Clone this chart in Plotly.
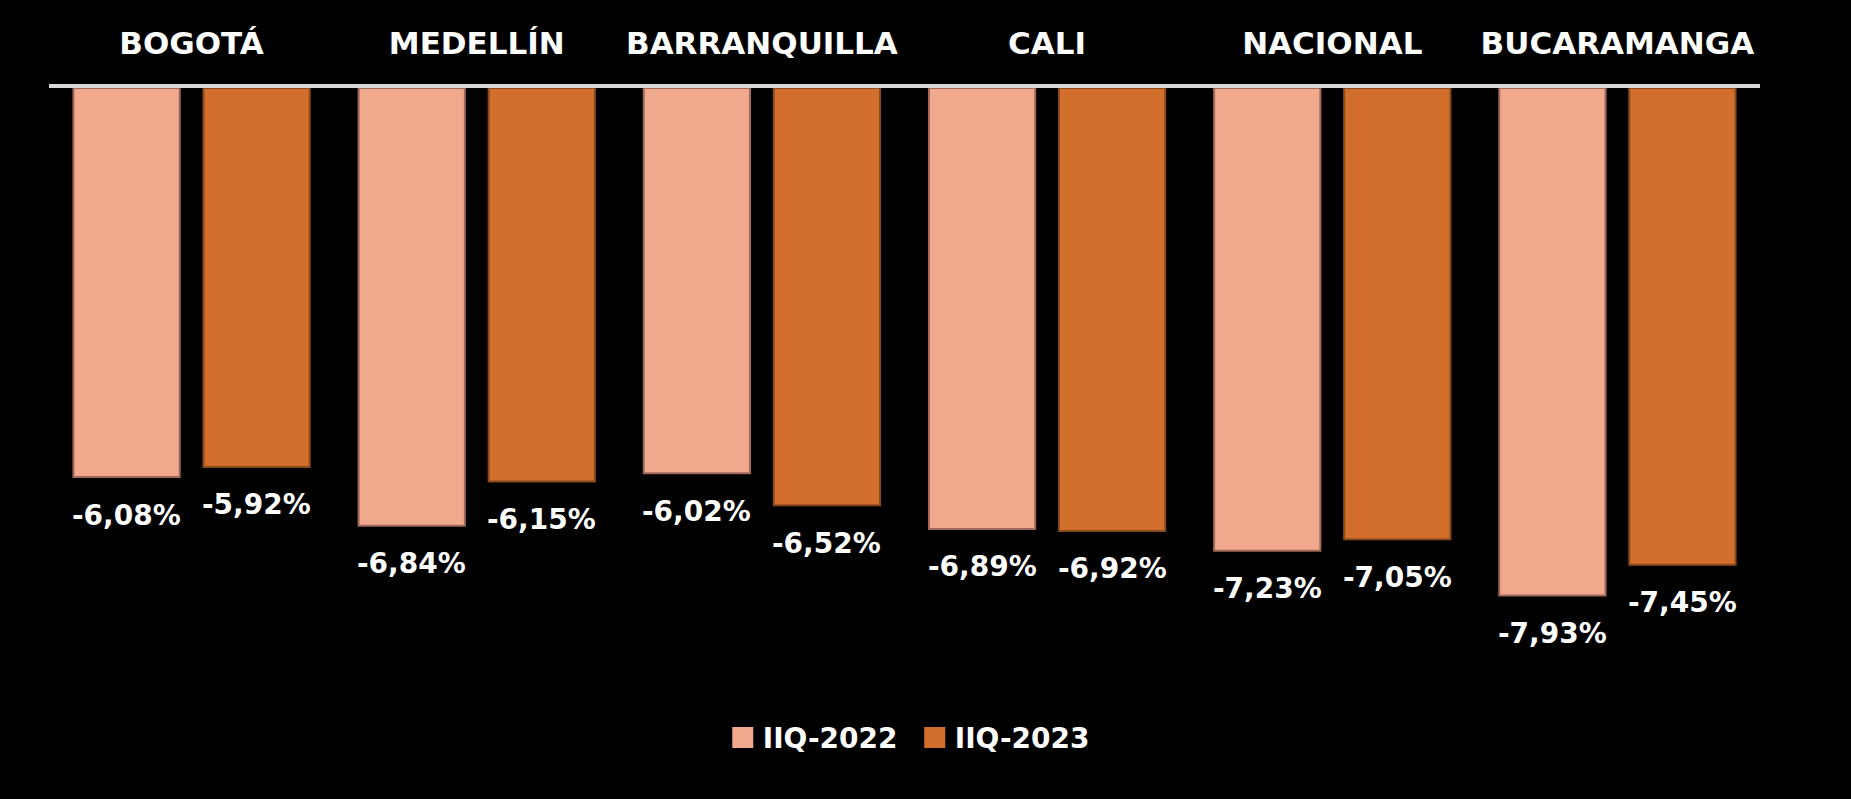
import plotly.graph_objects as go

categories = ["BOGOTÁ", "MEDELLÍN", "BARRANQUILLA", "CALI", "NACIONAL", "BUCARAMANGA"]
series_names = ["IIQ-2022", "IIQ-2023"]
values_2022 = [-6.08, -6.84, -6.02, -6.89, -7.23, -7.93]
values_2023 = [-5.92, -6.15, -6.52, -6.92, -7.05, -7.45]

colors = ["#F0A98C", "#D36F2C"]
edge_colors = ["#A0685A", "#8A4A1E"]

W, H = 1851, 799
ML, MR, MT, MB = 49, 91, 88, 135
Y_RANGE = [-9, 0]
BARGAP = 0.088
BARGROUPGAP = 0.183

fig = go.Figure()
for name, vals, col, ecol in zip(series_names, [values_2022, values_2023], colors, edge_colors):
    fig.add_trace(go.Bar(
        x=categories, y=vals, name=name,
        marker=dict(color=col, line=dict(color=ecol, width=2)),
        hoverinfo="skip", showlegend=False,
    ))
# legend proxies (square swatches)
for name, col in zip(series_names, colors):
    fig.add_trace(go.Scatter(
        x=[None], y=[None], name=name, mode="markers",
        marker=dict(symbol="square", size=16, color=col, line=dict(color=col, width=5)),
        hoverinfo="skip", showlegend=True,
    ))

plot_w = W - ML - MR
cat_w = plot_w / len(categories)
slot = cat_w * (1 - BARGAP) / 2
offsets = [-slot / 2, slot / 2]

annotations = []
for vals, off in zip([values_2022, values_2023], offsets):
    for c, v in zip(categories, vals):
        annotations.append(dict(
            x=c, y=v, xref="x", yref="y",
            text=f"{v:.2f}".replace(".", ",") + "%",
            showarrow=False, xshift=off, yshift=-38,
            xanchor="center", yanchor="middle",
            font=dict(family="DejaVu Sans", size=28, color="white", weight="bold"),
        ))

fig.update_layout(
    width=W, height=H,
    margin=dict(l=ML, r=MR, t=MT, b=MB, pad=0),
    paper_bgcolor="black", plot_bgcolor="black",
    barmode="group", bargap=BARGAP, bargroupgap=BARGROUPGAP,
    showlegend=True,
    legend=dict(
        orientation="h", x=0.506, xanchor="center", y=-0.128, yanchor="middle",
        font=dict(family="DejaVu Sans", size=28, color="white", weight="bold"),
        bgcolor="rgba(0,0,0,0)", itemclick=False, itemdoubleclick=False,
        itemwidth=30, tracegroupgap=0, entrywidth=147,
    ),
    xaxis=dict(
        side="top", showline=True, linecolor="#D9D9D9", linewidth=4,
        ticks="outside", ticklen=18, tickcolor="rgba(0,0,0,0)",
        tickfont=dict(family="DejaVu Sans", size=31, color="white", weight="bold"),
        showgrid=False, zeroline=False, fixedrange=True,
    ),
    yaxis=dict(
        range=Y_RANGE, visible=False, showgrid=False, zeroline=False, fixedrange=True,
    ),
    annotations=annotations,
)

fig.write_html(
    "out.html",
    config={"displayModeBar": False},
    post_script="document.body.style.margin='0';document.body.style.overflow='hidden';document.body.style.background='black';",
)
